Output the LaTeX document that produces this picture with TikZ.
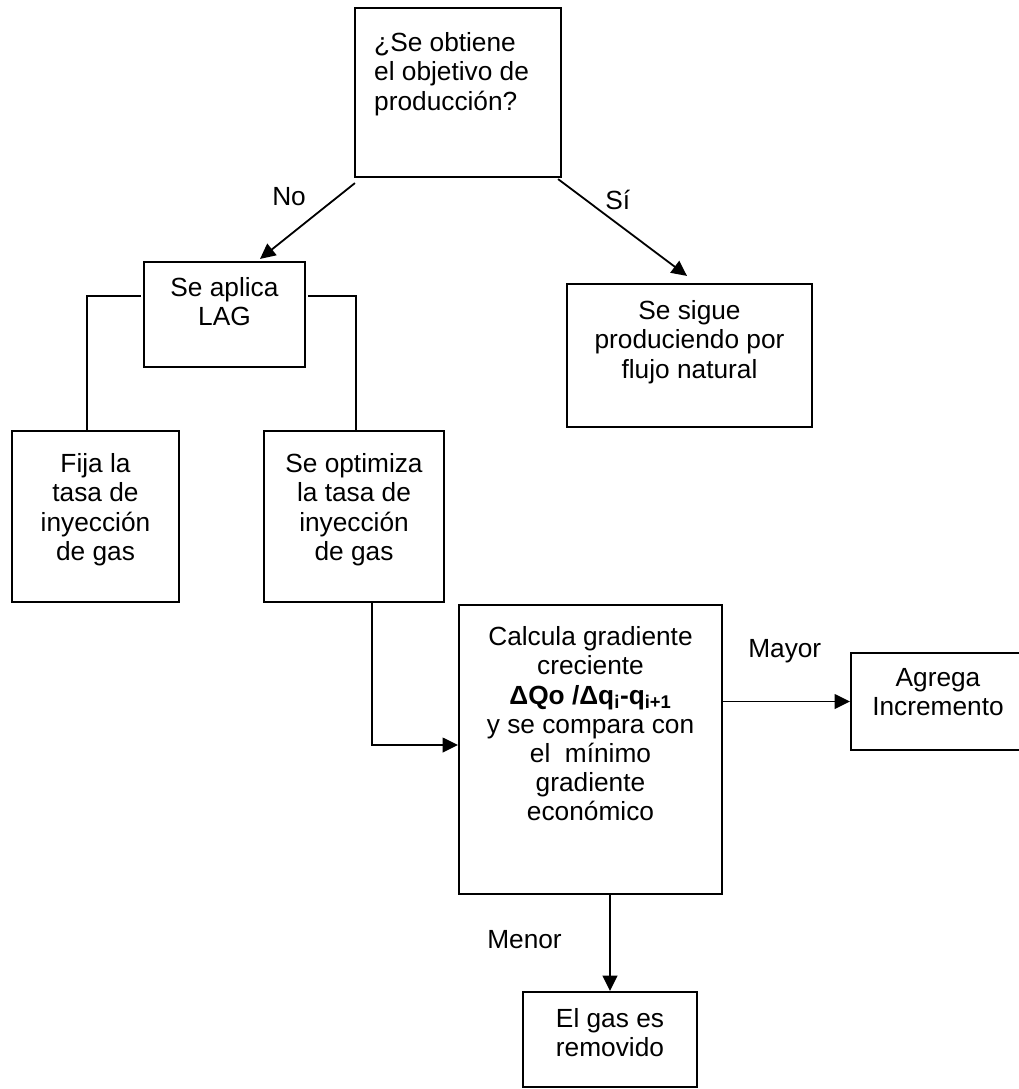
\documentclass[tikz,border=0pt]{standalone}
\usepackage{fontspec}
\setmainfont{Liberation Sans}
\usetikzlibrary{arrows.meta,calc}
\tikzset{
  box/.style={draw=black, line width=1.6pt, inner sep=0pt, fill=white},
  txt/.style={font=\fontsize{19.7pt}{21.9pt}\selectfont, align=center, inner sep=0pt, anchor=north},
  lbl/.style={font=\fontsize{19.7pt}{21.9pt}\selectfont, inner sep=0pt, anchor=base west},
  conn/.style={draw=black, line width=1.35pt},
  arr/.style={conn, -{Triangle[length=11.5pt,width=11pt]}}
}
\begin{document}
\begin{tikzpicture}[x=0.75pt,y=-0.75pt]
\useasboundingbox[fill=white] (0,0) rectangle (1019,1089);
% boxes
\node[box, minimum width=154.5pt, minimum height=126.75pt] (top) at (458,92.5) {};
\node[box, minimum width=120.75pt, minimum height=78.75pt] (lag) at (224.5,314.5) {};
\node[box, minimum width=183.75pt, minimum height=107.25pt] (flujo) at (689.5,355.5) {};
\node[box, minimum width=125.25pt, minimum height=128.25pt] (fija) at (95.5,516.5) {};
\node[box, minimum width=135pt, minimum height=128.25pt] (opt) at (354,516.5) {};
\node[box, minimum width=197.25pt, minimum height=216.75pt] (calc) at (590.5,749.5) {};
\node[box, minimum width=130.5pt, minimum height=72.75pt] (agrega) at (938,701.5) {};
\node[box, minimum width=130.5pt, minimum height=71.25pt] (gas) at (610,1039.5) {};
% texts
\node[txt, anchor=north west, align=left] (ttop) at ($(top.north west)+(20,25.4)$) {¿Se obtiene\\el objetivo de\\producción?};
\node[txt] (tlag) at ($(lag.north)+(0,16.4)$) {Se aplica\\LAG};
\node[txt] (tflujo) at ($(flujo.north)+(0,17.4)$) {Se sigue\\produciendo por\\flujo natural};
\node[txt] (tfija) at ($(fija.north)+(0,23.4)$) {Fija la\\tasa de\\inyección\\de gas};
\node[txt] (topt) at ($(opt.north)+(0,23.4)$) {Se optimiza\\la tasa de\\inyección\\de gas};
\node[txt] (tcalc) at ($(calc.north)+(0,22.4)$) {Calcula gradiente\\creciente\\{\bfseries ΔQo /Δq\textsubscript{i}-q\textsubscript{i+1}}\\y se compara con\\el\ \ mínimo\\gradiente\\económico};
\node[txt] (tagrega) at ($(agrega.north)+(0,16.4)$) {Agrega\\Incremento};
\node[txt] (tgas) at ($(gas.north)+(0,17.4)$) {El gas es\\removido};
% connectors
\draw[arr] ($(top.south west)+(1,5)$) -- ($(lag.north)+(35.5,-2)$);
\draw[arr] ($(top.south east)+(-4,1)$) -- ($(flujo.north)+(-2.5,-7)$);
\draw[conn] ($(lag.north west)+(-2,35)$) -| ($(fija.north)+(-8.5,0)$);
\draw[conn] ($(lag.north east)+(2,35)$) -| ($(opt.north)+(2,0)$);
\draw[arr] ($(opt.south)+(18,0)$) |- ($(calc.west)+(0,-4.5)$);
\draw[arr] (calc.east |- agrega.west) -- (agrega.west);
\draw[arr] (gas.north |- calc.south) -- (gas.north);
% labels
\node[lbl] (lno) at (272,205) {No};
\node[lbl] (lsi) at (605,209) {Sí};
\node[lbl] (lmayor) at (748,657) {Mayor};
\node[lbl] (lmenor) at (487,948) {Menor};
\end{tikzpicture}
\end{document}
